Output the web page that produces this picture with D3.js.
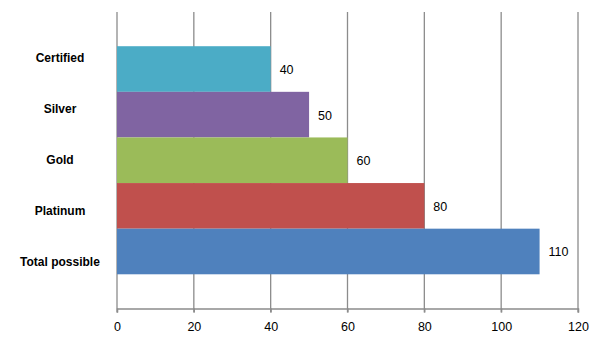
<!DOCTYPE html>
<html><head><meta charset="utf-8">
<script src="https://cdn.jsdelivr.net/npm/d3@7"></script>
<style>
html,body{margin:0;padding:0;background:#fff;}
svg{display:block;font-family:"Liberation Sans",Arial,sans-serif;}
</style></head>
<body>
<svg id="c" width="600" height="342"></svg>
<script>
const categories = ["Certified","Silver","Gold","Platinum","Total possible"];
const values = [40,50,60,80,110];
const colors = ["#4BACC6","#8064A2","#9BBB59","#C0504D","#4F81BD"];
const xTicks = [0,20,40,60,80,100,120];

(function(){
const svg = d3.select("#c");
const mLeft = 117, mRight = 578, mTop = 12, mBottom = 308.5;

const x = d3.scaleLinear().domain([0,120]).range([mLeft,mRight]);
const y = d3.scaleBand().domain(categories).range([mTop,mBottom]).paddingInner(0).paddingOuter(0.75);
const yl = d3.scalePoint().domain(categories).range([57.5,261.5]);

// gridlines
svg.append("g").selectAll("line").data(xTicks).join("line")
  .attr("x1",d=>x(d)).attr("x2",d=>x(d)).attr("y1",mTop).attr("y2",mBottom+4)
  .attr("stroke","#8c8c8c").attr("stroke-width",1.3);

// bars
svg.append("g").selectAll("rect").data(categories).join("rect")
  .attr("x",x(0)).attr("y",d=>y(d)).attr("height",y.bandwidth())
  .attr("width",(d,i)=>x(values[i])-x(0)).attr("fill",(d,i)=>colors[i]);

// x axis
const ax = svg.append("g").attr("transform",`translate(0,${mBottom})`)
  .call(d3.axisBottom(x).tickValues(xTicks).tickSize(4).tickPadding(9.5));
ax.select(".domain").attr("stroke","#8c8c8c").attr("stroke-width",1.3);
ax.selectAll(".tick line").attr("stroke","#8c8c8c").attr("stroke-width",1.3);
ax.selectAll(".tick text").attr("font-size",12.5).attr("font-family","Liberation Sans, Arial, sans-serif").attr("fill","#000");

// value labels
svg.append("g").selectAll("text").data(categories).join("text")
  .attr("x",(d,i)=>x(values[i])+9).attr("y",d=>y(d)+y.bandwidth()/2+0.5)
  .attr("dy","0.35em").attr("font-size",12.5).attr("fill","#000")
  .text((d,i)=>values[i]);

// category labels
svg.append("g").selectAll("text").data(categories).join("text")
  .attr("x",60).attr("y",d=>yl(d)).attr("dy","0.35em").attr("text-anchor","middle")
  .attr("font-size",12).attr("font-weight","bold").attr("fill","#000")
  .text(d=>d);
})();
</script>
</body></html>
